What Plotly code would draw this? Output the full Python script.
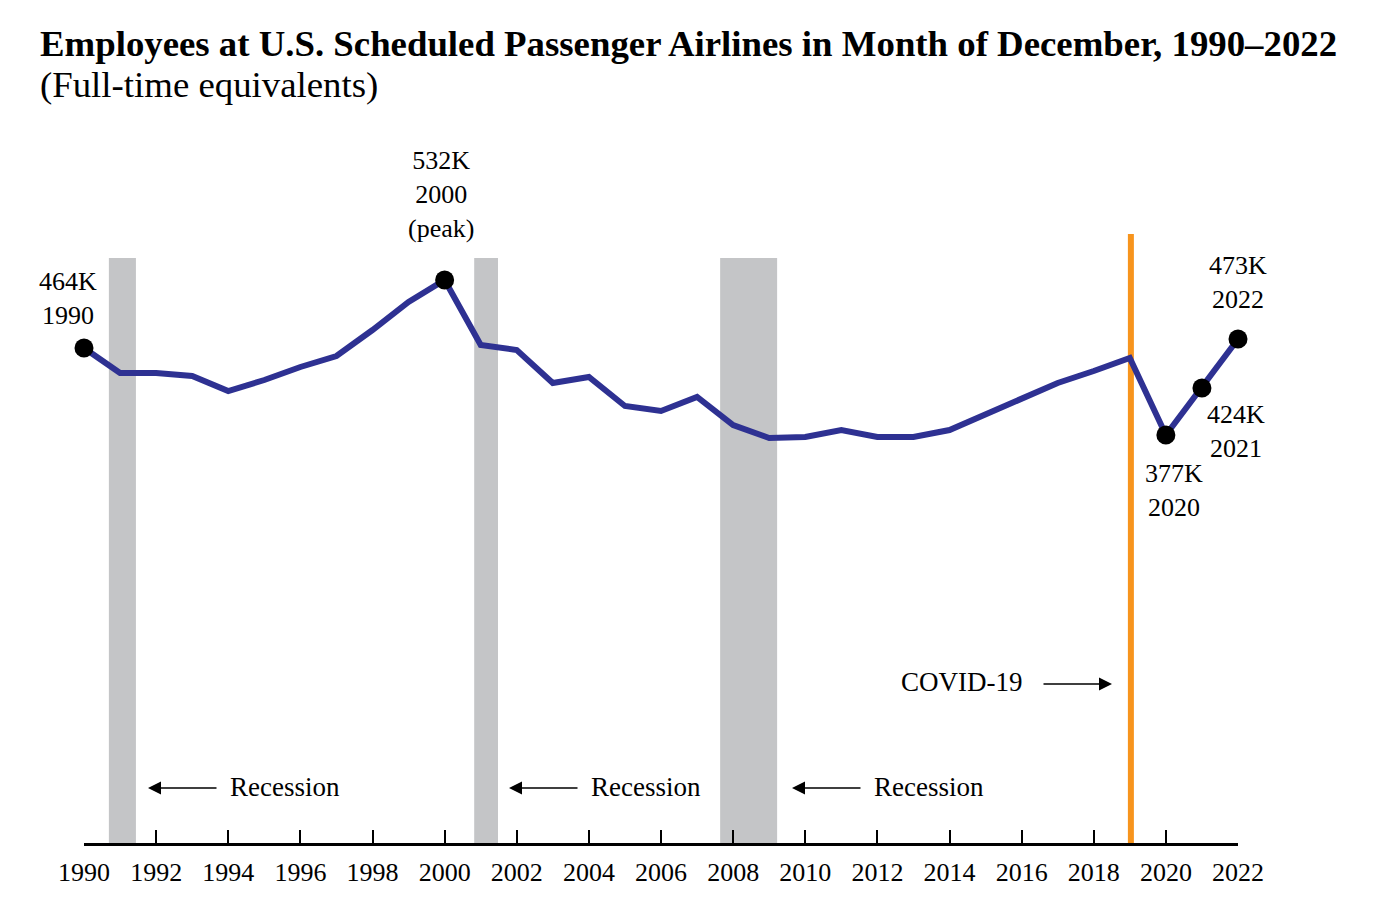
import plotly.graph_objects as go

years = list(range(1990, 2023))
employees_k = [464, 439, 439, 436, 421, 432, 445, 456, 482, 510, 532,
               467, 462, 429, 435, 406, 401, 415, 387, 374, 375, 382,
               375, 375, 382, 398, 414, 429, 441, 454, 377, 424, 473]

highlight_years = [1990, 2000, 2020, 2021, 2022]
highlight_labels = ["464K<br>1990", "532K<br>2000<br>(peak)", "377K<br>2020",
                    "424K<br>2021", "473K<br>2022"]

recession_start = [1990.69, 2000.82, 2007.64]
recession_end = [1991.44, 2001.48, 2009.22]
covid_year = 2019.03
tick_years = list(range(1990, 2023, 2))

FONT = "Liberation Serif, Times New Roman, serif"
BLUE = "#2E3192"

# plot area in screen pixels: x 84..1238, y 220..843 (page has 8px body offset)
PX0, PX1, PY0, PY1 = 84, 1238, 220, 843
def px(x):
    return (x - PX0) / (PX1 - PX0)
def py(y):
    return (PY1 - y) / (PY1 - PY0)

fig = go.Figure()

for s, e in zip(recession_start, recession_end):
    fig.add_shape(type="rect", xref="x", yref="y", x0=s, x1=e, y0=-31, y1=554,
                  fillcolor="#C4C5C7", line=dict(width=0), layer="below")

fig.add_shape(type="line", xref="x", yref="y", x0=covid_year, x1=covid_year,
              y0=-31, y1=578, line=dict(color="#F7941D", width=6), layer="below")

fig.add_trace(go.Scatter(x=years, y=employees_k, mode="lines",
                         line=dict(color=BLUE, width=6), cliponaxis=False,
                         hoverinfo="skip"))

hy = [employees_k[years.index(y)] for y in highlight_years]
fig.add_trace(go.Scatter(x=highlight_years, y=hy, mode="markers",
                         marker=dict(color="black", size=19), cliponaxis=False,
                         hoverinfo="skip"))

ann_pos = {1990: (68, 298), 2000: (441, 194), 2020: (1174, 490),
           2021: (1236, 431), 2022: (1238, 282)}
for yr, lab in zip(highlight_years, highlight_labels):
    ax, ay = ann_pos[yr]
    fig.add_annotation(x=px(ax), y=py(ay), xref="paper", yref="paper", text=lab,
                       showarrow=False,
                       font=dict(family=FONT, size=26, color="black"),
                       xanchor="center", yanchor="middle")

# Recession labels with arrows
rec_text_x = [285, 646, 929]
rec_arrow_tail = [218, 579, 862]
rec_arrow_head = [148, 509, 792]
for tx, at, ah in zip(rec_text_x, rec_arrow_tail, rec_arrow_head):
    fig.add_annotation(x=px(tx), y=py(787), xref="paper", yref="paper", text="Recession",
                       showarrow=False, xanchor="center", yanchor="middle",
                       font=dict(family=FONT, size=27, color="black"))
    fig.add_annotation(x=px(ah), y=py(788), ax=at - ah, ay=0, xref="paper", yref="paper",
                       axref="pixel", ayref="pixel", text="", showarrow=True,
                       arrowhead=2, arrowsize=2, arrowwidth=1.3, arrowcolor="black")

fig.add_annotation(x=px(962), y=py(682), xref="paper", yref="paper", text="COVID-19",
                   showarrow=False, xanchor="center", yanchor="middle",
                   font=dict(family=FONT, size=27, color="black"))
fig.add_annotation(x=px(1112), y=py(684), ax=1042 - 1112, ay=0, xref="paper", yref="paper",
                   axref="pixel", ayref="pixel", text="", showarrow=True,
                   arrowhead=2, arrowsize=2, arrowwidth=1.3, arrowcolor="black")

fig.add_annotation(x=px(38), y=py(43), xref="paper", yref="paper",
                   text="<b>Employees at U.S. Scheduled Passenger Airlines in Month of December, 1990–2022</b>",
                   showarrow=False, xanchor="left", yanchor="middle",
                   font=dict(family=FONT, size=36.8, color="black"))
fig.add_annotation(x=px(38), y=py(85), xref="paper", yref="paper",
                   text="(Full-time equivalents)",
                   showarrow=False, xanchor="left", yanchor="middle",
                   font=dict(family=FONT, size=36.8, color="black"))

W, H = 1367, 899
fig.update_layout(
    width=W, height=H,
    margin=dict(l=PX0 - 8, r=W - (PX1 - 8), t=PY0 - 8, b=H - (PY1 - 8)),
    paper_bgcolor="white", plot_bgcolor="white",
    showlegend=False,
    xaxis=dict(range=[1990, 2022], showgrid=False, zeroline=False,
               showline=True, linecolor="black", linewidth=3,
               ticks="inside", ticklen=13, tickwidth=2, tickcolor="black",
               tickvals=tick_years, ticktext=[str(t) for t in tick_years],
               ticklabelstandoff=4,
               tickfont=dict(family=FONT, size=26, color="black")),
    yaxis=dict(range=[-31, 592], visible=False, showgrid=False, zeroline=False),
)

fig.write_html("out.html")
